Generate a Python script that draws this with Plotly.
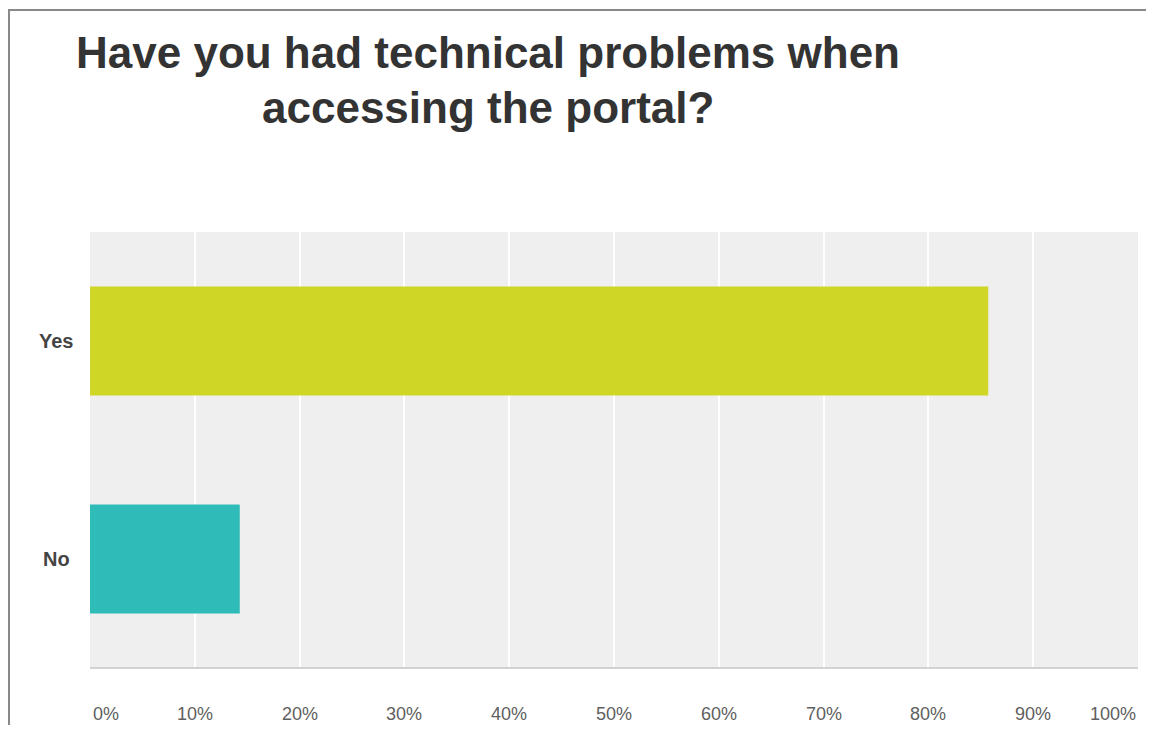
import plotly.graph_objects as go

categories = ["Yes", "No"]
values = [85.71, 14.29]
bar_colors = ["#cfd625", "#2fbcb9"]
tick_values = [0, 10, 20, 30, 40, 50, 60, 70, 80, 90, 100]
tick_labels = ["0%", "10%", "20%", "30%", "40%", "50%", "60%", "70%", "80%", "90%", "100%"]
title_lines = ["Have you had technical problems when", "accessing the portal?"]

# page body has an 8px margin; figure is placed at (8, 8)
O = 8
W, H = 1138, 717
# plot area in page coordinates: x 90..1138, y 232..668
PX0, PX1, PY0, PY1 = 90, 1138, 232, 668
L, T = PX0 - O, PY0 - O
R = W - (PX1 - O)
B = H - (PY1 - O)
pw, ph = PX1 - PX0, PY1 - PY0

def px_x(x):
    return (x - PX0) / pw

def px_y(y):
    return (PY1 - y) / ph

fig = go.Figure()
fig.add_trace(go.Bar(
    y=categories, x=values, orientation="h",
    marker=dict(color=bar_colors, line=dict(width=0)),
    width=0.5, hoverinfo="skip",
))

annotations = []
for line, yy in zip(title_lines, [53, 107]):
    annotations.append(dict(
        text=line, xref="paper", yref="paper", x=px_x(488), y=px_y(yy),
        xanchor="center", yanchor="middle", showarrow=False,
        font=dict(family="Liberation Sans, Arial", size=44, color="#333333", weight="bold"),
    ))
for i, (v, t) in enumerate(zip(tick_values, tick_labels)):
    if i == 0:
        anchor, xx = "left", px_x(91)
    elif i == len(tick_values) - 1:
        anchor, xx = "right", px_x(1138)
    else:
        anchor, xx = "center", v / 100
    annotations.append(dict(
        text=t, xref="paper", yref="paper", x=xx, y=px_y(714),
        xanchor=anchor, yanchor="middle", showarrow=False,
        font=dict(family="Liberation Sans, Arial", size=18, color="#606060"),
    ))
for c in categories:
    annotations.append(dict(
        text=c, xref="paper", yref="y", x=px_x(56), y=c,
        xanchor="center", yanchor="middle", showarrow=False,
        font=dict(family="Liberation Sans, Arial", size=20, color="#444444", weight="bold"),
    ))

shapes = [
    dict(type="line", xref="paper", yref="paper", x0=px_x(9), x1=px_x(9), y0=px_y(740), y1=px_y(10),
         line=dict(color="#888888", width=2)),
    dict(type="line", xref="paper", yref="paper", x0=px_x(8), x1=px_x(1160), y0=px_y(10), y1=px_y(10),
         line=dict(color="#888888", width=2)),
    dict(type="line", xref="paper", yref="paper", x0=0, x1=1, y0=0, y1=0,
         line=dict(color="#d2d2d2", width=2)),
]

fig.update_layout(
    width=W, height=H,
    margin=dict(l=L, r=R, t=T, b=B),
    paper_bgcolor="white", plot_bgcolor="#efefef",
    showlegend=False,
    xaxis=dict(range=[0, 100], tickvals=tick_values, showticklabels=False,
               showgrid=True, gridcolor="white", gridwidth=2, zeroline=False,
               showline=False, fixedrange=True),
    yaxis=dict(categoryorder="array", categoryarray=categories[::-1], range=[-0.5, 1.5],
               showticklabels=False, showgrid=False, zeroline=False, showline=False),
    annotations=annotations,
    shapes=shapes,
)

fig.write_html("out.html")
